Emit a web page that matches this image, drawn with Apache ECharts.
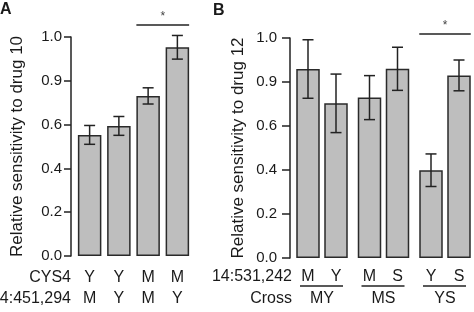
<!DOCTYPE html>
<html>
<head>
<meta charset="utf-8">
<script src="https://cdn.jsdelivr.net/npm/echarts@6/dist/echarts.min.js"></script>
<style>
  html, body { margin: 0; padding: 0; background: #fff; }
  #main { width: 474px; height: 312px; }
</style>
</head>
<body>
<div id="main"></div>
<script>
// tick labels as printed on the figure (evenly spaced positions)
var yTickLabels = ['0.0', '0.2', '0.4', '0.6', '0.9', '1.0']

// panel A
var cys4 = ['Y', 'Y', 'M', 'M']
var locA = ['M', 'Y', 'M', 'Y']
var meanA = [0.553, 0.594, 0.731, 0.953]
var errA = [0.043, 0.043, 0.037, 0.054]

// panel B, one entry per cross
var allelesB = [['M', 'Y'], ['M', 'S'], ['Y', 'S']]
var crossB = ['MY', 'MS', 'YS']
var meanB = [[0.859, 0.703], [0.729, 0.860], [0.399, 0.830]]
var errB = [[0.133, 0.133], [0.100, 0.098], [0.074, 0.070]]

var FONT = 'Liberation Sans, Arial, sans-serif'
var INK = '#1a1a1a'
var BAR_W = 23.5

function errItem(params, api) {
  var x = api.value(0)
  var m = api.value(1)
  var e = api.value(2)
  var hi = api.coord([x, m + e])
  var lo = api.coord([x, m - e])
  var w = 5.5
  var st = { stroke: '#222', lineWidth: 1.5 }
  return {
    type: 'group',
    children: [
      { type: 'line', shape: { x1: hi[0], y1: hi[1], x2: lo[0], y2: lo[1] }, style: st },
      { type: 'line', shape: { x1: hi[0] - w, y1: hi[1], x2: hi[0] + w, y2: hi[1] }, style: st },
      { type: 'line', shape: { x1: lo[0] - w, y1: lo[1], x2: lo[0] + w, y2: lo[1] }, style: st }
    ]
  }
}

function yAxisFor(grid, title, gap, tickLen, margin) {
  return {
    type: 'value', gridIndex: grid, min: 0, max: 1, interval: 0.2, offset: 4,
    axisLine: { show: true, lineStyle: { color: '#222', width: 1.5 } },
    axisTick: { show: true, length: tickLen, lineStyle: { color: '#222', width: 1.5 } },
    axisLabel: {
      margin: margin, fontSize: 15, color: INK, fontFamily: FONT,
      formatter: function (v) { return yTickLabels[Math.round(v / 0.2)] }
    },
    splitLine: { show: false },
    name: title, nameLocation: 'middle', nameGap: gap,
    nameTextStyle: { fontSize: 17, color: INK, fontFamily: FONT }
  }
}

var grids = [
  { left: 75, top: 37, width: 117, height: 219 },
  { left: 294, top: 38, width: 56, height: 220 },
  { left: 355.5, top: 38, width: 56, height: 220 },
  { left: 417, top: 38, width: 56, height: 220 }
]

var xAxes = [{
  type: 'category', gridIndex: 0,
  data: cys4.map(function (c, i) { return c + '\n' + locA[i] }),
  axisLine: { show: false }, axisTick: { show: false },
  axisLabel: { interval: 0, margin: 11, fontSize: 16, lineHeight: 21, color: INK, fontFamily: FONT }
}]
var yAxes = [yAxisFor(0, 'Relative sensitivity to drug 10', 45, 7, 9)]
var series = [
  {
    type: 'bar', xAxisIndex: 0, yAxisIndex: 0, data: meanA, barWidth: BAR_W,
    itemStyle: { color: '#bebebe', borderColor: '#2a2a2a', borderWidth: 1.5 }
  },
  {
    type: 'custom', xAxisIndex: 0, yAxisIndex: 0, renderItem: errItem, clip: false, z: 5,
    data: meanA.map(function (m, i) { return [i, m, errA[i]] })
  }
]

allelesB.forEach(function (al, g) {
  var gi = g + 1
  xAxes.push({
    type: 'category', gridIndex: gi, data: al,
    axisLine: { show: false }, axisTick: { show: false },
    axisLabel: { interval: 0, margin: 8, fontSize: 16, lineHeight: 21, color: INK, fontFamily: FONT }
  })
  if (g === 0) {
    yAxes.push(yAxisFor(gi, 'Relative sensitivity to drug 12', 43, 8, 13))
  } else {
    yAxes.push({ type: 'value', gridIndex: gi, min: 0, max: 1, show: false, splitLine: { show: false } })
  }
  series.push({
    type: 'bar', xAxisIndex: gi, yAxisIndex: gi, data: meanB[g], barWidth: BAR_W,
    itemStyle: { color: '#bebebe', borderColor: '#2a2a2a', borderWidth: 1.5 }
  })
  series.push({
    type: 'custom', xAxisIndex: gi, yAxisIndex: gi, renderItem: errItem, clip: false, z: 5,
    data: meanB[g].map(function (m, i) { return [i, m, errB[g][i]] })
  })
})

var chart = echarts.init(document.getElementById('main'))
chart.setOption({
  animation: false,
  grid: grids,
  xAxis: xAxes,
  yAxis: yAxes,
  series: series
})

function px(ax, cat, v) {
  return chart.convertToPixel({ xAxisIndex: ax, yAxisIndex: ax }, [cat, v])
}
function txt(x, y, s, opt) {
  return {
    type: 'text', x: x, y: y,
    style: Object.assign({
      text: s, fill: INK, font: '16px ' + FONT, align: 'right', verticalAlign: 'middle'
    }, opt || {})
  }
}
function sigBar(ax, a, b, v) {
  var p0 = px(ax, a, v)
  var p1 = px(ax, b, v)
  return [
    { type: 'line', shape: { x1: p0[0] - BAR_W / 2, y1: p0[1], x2: p1[0] + BAR_W / 2, y2: p1[1] },
      style: { stroke: '#222', lineWidth: 1.5 } },
    txt((p0[0] + p1[0]) / 2, p0[1] - 8, '*', { font: '12px ' + FONT, align: 'center', fill: '#444' })
  ]
}

var gfx = [
  txt(0, 10, 'A', { font: 'bold 16px ' + FONT, align: 'left' }),
  txt(213, 11, 'B', { font: 'bold 16px ' + FONT, align: 'left' }),
  txt(71, 277.5, 'CYS4'),
  txt(71, 298.5, '14:451,294'),
  txt(292, 276.5, '14:531,242'),
  txt(292, 298.5, 'Cross')
]
gfx = gfx.concat(sigBar(0, 2, 3, 1.055))
gfx = gfx.concat(sigBar(3, 0, 1, 1.018))
crossB.forEach(function (c, g) {
  var a = px(g + 1, 0, 0)
  var b = px(g + 1, 1, 0)
  gfx.push({ type: 'line', shape: { x1: a[0] - 8, y1: 286, x2: b[0] + 7, y2: 286 },
    style: { stroke: '#222', lineWidth: 1.5 } })
  gfx.push(txt((a[0] + b[0]) / 2, 298.5, c, { align: 'center' }))
})
chart.setOption({ graphic: gfx })
</script>
</body>
</html>
